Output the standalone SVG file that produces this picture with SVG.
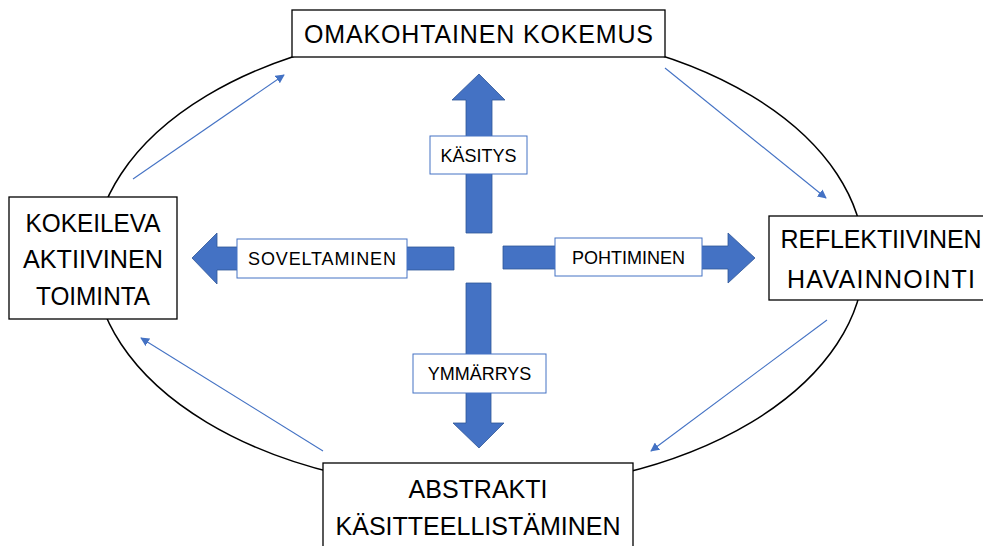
<svg xmlns="http://www.w3.org/2000/svg" width="983" height="546" viewBox="0 0 983 546">
<defs>
<style>
.box{fill:#fff;stroke:#000;stroke-width:1.3}
.big{font-family:"Liberation Sans",Arial,sans-serif;font-size:25px;fill:#000;text-anchor:middle}
.lbl{fill:#fff;stroke:#4472C4;stroke-width:1}
.lt{font-family:"Liberation Sans",Arial,sans-serif;font-size:18px;fill:#000;text-anchor:middle}
.blk{fill:#4472C4;stroke:#2F5597;stroke-width:0.8}
.con{stroke:#4472C4;stroke-width:1.1;fill:none;marker-end:url(#ah)}
</style>
<marker id="ah" viewBox="0 0 10 10" refX="9" refY="5" markerWidth="9" markerHeight="9" markerUnits="userSpaceOnUse" orient="auto">
<path d="M0,0 L10,5 L0,10 z" fill="#4472C4"/>
</marker>
</defs>
<rect width="983" height="546" fill="#fff"/>
<ellipse cx="479" cy="259" rx="385" ry="231" fill="none" stroke="#000" stroke-width="1.5"/>
<g id="connectors">
<line class="con" x1="133" y1="179" x2="284" y2="75"/>
<line class="con" x1="665" y1="68" x2="826" y2="198"/>
<line class="con" x1="827" y1="320" x2="651" y2="451"/>
<line class="con" x1="323" y1="451" x2="141" y2="338"/>
</g>
<g id="arrow-up">
<polygon class="blk" points="466,233 466,100 452,100 479,74 505,100 492,100 492,233"/>
<rect class="lbl" x="430" y="136" width="97" height="38"/>
<text class="lt" x="478.5" y="162">KÄSITYS</text>
</g>
<g id="arrow-left">
<polygon class="blk" points="454,247 217,247 217,233 192,258 217,284 217,270 454,270"/>
<rect class="lbl" x="237" y="239" width="170" height="39"/>
<text class="lt" x="322" y="265" textLength="148">SOVELTAMINEN</text>
</g>
<g id="arrow-right">
<polygon class="blk" points="503,246 728,246 728,233 755,258 728,283 728,269 503,269"/>
<rect class="lbl" x="555" y="238" width="147" height="38"/>
<text class="lt" x="628.5" y="264">POHTIMINEN</text>
</g>
<g id="arrow-down">
<polygon class="blk" points="466,283 466,423 453,423 479,448 504,423 491,423 491,283"/>
<rect class="lbl" x="413" y="354" width="133" height="39"/>
<text class="lt" x="479.5" y="380">YMMÄRRYS</text>
</g>
<g id="node-top">
<rect class="box" x="292" y="10" width="373" height="47"/>
<text class="big" x="478.5" y="43" textLength="349">OMAKOHTAINEN KOKEMUS</text>
</g>
<g id="node-left">
<rect class="box" x="9" y="197" width="168" height="122"/>
<text class="big" x="93" y="232" font-size="28" textLength="135" lengthAdjust="spacingAndGlyphs">KOKEILEVA</text>
<text class="big" x="93" y="268" font-size="28" textLength="140" lengthAdjust="spacingAndGlyphs">AKTIIVINEN</text>
<text class="big" x="93" y="305" font-size="28" textLength="114" lengthAdjust="spacingAndGlyphs">TOIMINTA</text>
</g>
<g id="node-right">
<rect class="box" x="769" y="216" width="230" height="84"/>
<text class="big" x="881" y="248" font-size="26" textLength="201">REFLEKTIIVINEN</text>
<text class="big" x="881" y="288" font-size="26" textLength="188">HAVAINNOINTI</text>
</g>
<g id="node-bottom">
<rect class="box" x="323" y="463" width="310" height="100"/>
<text class="big" x="478" y="498" font-size="26">ABSTRAKTI</text>
<text class="big" x="478" y="535" font-size="26" textLength="285">KÄSITTEELLISTÄMINEN</text>
</g>
</svg>
